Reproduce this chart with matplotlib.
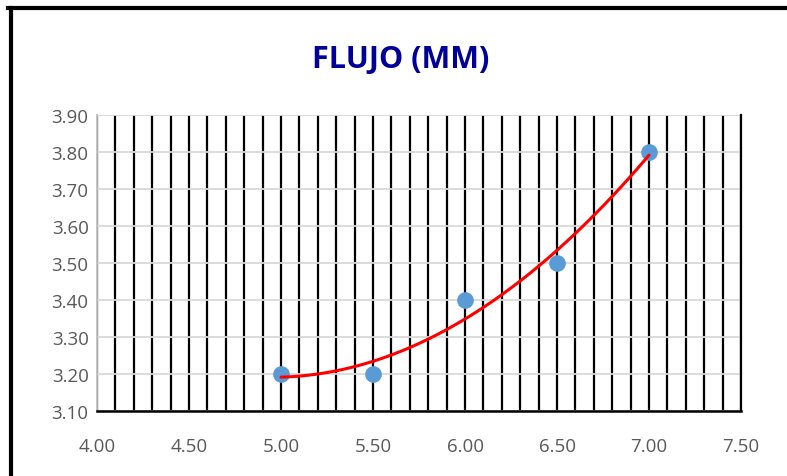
import numpy as np
import matplotlib
matplotlib.use("Agg")
import matplotlib.pyplot as plt
from matplotlib.lines import Line2D
from matplotlib.ticker import MultipleLocator, FormatStrFormatter

x_vals = [5.0, 5.5, 6.0, 6.5, 7.0]
y_vals = [3.20, 3.20, 3.40, 3.50, 3.80]
title = "FLUJO (MM)"

plt.rcParams['font.family'] = ['Open Sans', 'DejaVu Sans']

fig = plt.figure(figsize=(7.87, 4.77), dpi=100)
ax = fig.add_axes([97/787, 1-412/477, (741-97)/787, (412-116)/477])

ax.set_xlim(4.0, 7.5)
ax.set_ylim(3.10, 3.90)
ax.xaxis.set_major_locator(MultipleLocator(0.5))
ax.yaxis.set_major_locator(MultipleLocator(0.1))
ax.xaxis.set_minor_locator(MultipleLocator(0.1))
ax.xaxis.set_major_formatter(FormatStrFormatter('%.2f'))
ax.yaxis.set_major_formatter(FormatStrFormatter('%.2f'))

# grids
ax.set_axisbelow(True)
ax.yaxis.grid(True, which='major', color='#D9D9D9', lw=1.3, zorder=0)
ax.xaxis.grid(True, which='minor', color='black', lw=1.6, zorder=1)
ax.xaxis.grid(True, which='major', color='black', lw=1.6, zorder=1)

ax.spines['top'].set_visible(False)
ax.spines['right'].set_color('black')
ax.spines['right'].set_linewidth(1.6)
ax.spines['left'].set_color('#BFBFBF')
ax.spines['left'].set_linewidth(1.3)
ax.spines['bottom'].set_color('black')
ax.spines['bottom'].set_linewidth(1.8)

ax.tick_params(axis='both', which='both', length=0, labelsize=13.5, labelcolor='#595959')
ax.tick_params(axis='x', pad=19)
ax.tick_params(axis='y', pad=6)

ax.plot(x_vals, y_vals, 'o', color='#5B9BD5', markersize=11, zorder=3, clip_on=False)

coef = np.polyfit(x_vals, y_vals, 2)
xs = np.linspace(min(x_vals), max(x_vals), 200)
ax.plot(xs, np.polyval(coef, xs), color='#FF0000', lw=2.2, zorder=4, solid_capstyle='round')

fig.text(401/787, 1-60/477, title, ha='center', va='center', fontsize=22,
         fontweight='bold', color='#000099')

# outer frame lines (top and left)
fig.add_artist(Line2D([8/787, 1.0], [1-9/477, 1-9/477], color='black', lw=3, transform=fig.transFigure))
fig.add_artist(Line2D([11/787, 11/787], [0, 1-9/477], color='black', lw=3, transform=fig.transFigure))

fig.savefig('out.png', dpi=100)
